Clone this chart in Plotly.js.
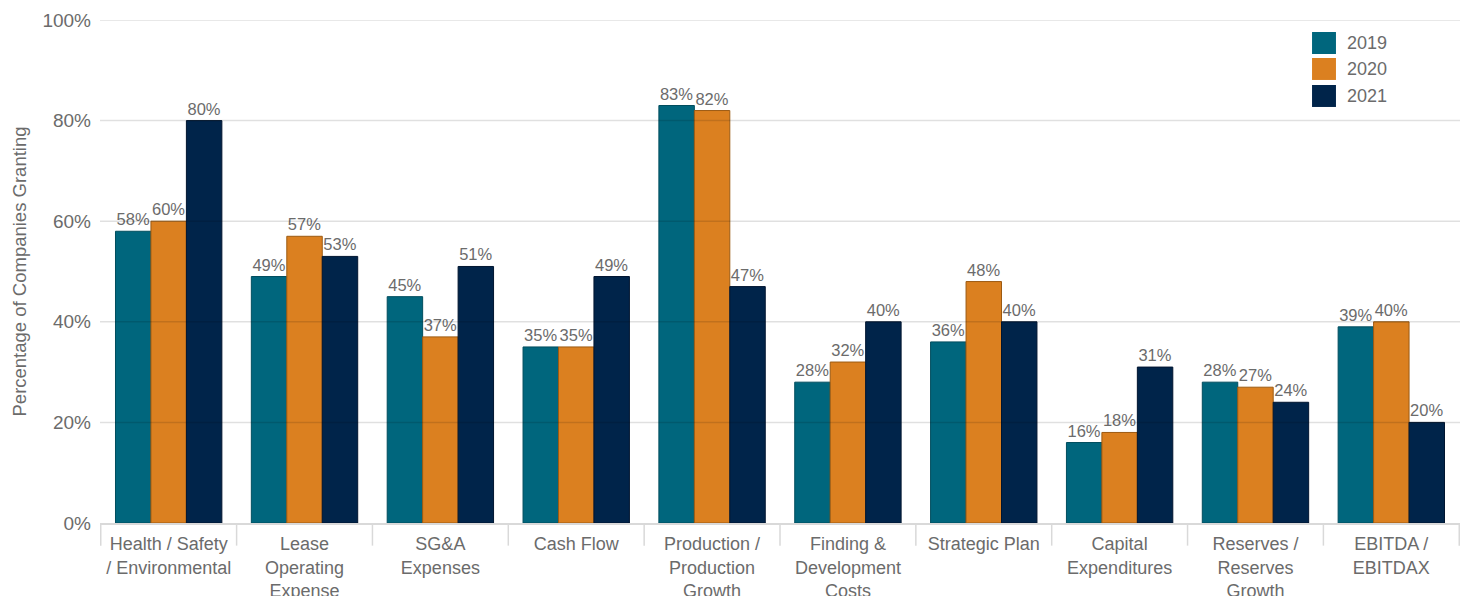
<!DOCTYPE html>
<html><head><meta charset="utf-8">
<script src="https://cdn.plot.ly/plotly-3.0.1.min.js"></script>
<style>html,body{margin:0;padding:0;background:#fff}#chart{width:1467px;height:596px}</style>
</head><body><div id="chart"></div>
<script>
const categories = ["Health / Safety<br>/ Environmental","Lease<br>Operating<br>Expense","SG&A<br>Expenses","Cash Flow","Production /<br>Production<br>Growth","Finding &<br>Development<br>Costs","Strategic Plan","Capital<br>Expenditures","Reserves /<br>Reserves<br>Growth","EBITDA /<br>EBITDAX"];
const series2019 = [58,49,45,35,83,28,36,16,28,39];
const series2020 = [60,57,37,35,82,32,48,18,27,40];
const series2021 = [80,53,51,49,47,40,40,31,24,20];
const seriesNames = ["2019","2020","2021"];
const colors = ["#00667d","#db8020","#00244a"];
const lineColors = ["#004d5e","#9c5a12","#001530"];
const allSeries = [series2019, series2020, series2021];
const yTicks = [0,20,40,60,80,100];

const FONT = "Liberation Sans, Arial, sans-serif";
const GRAY = "#6b6b6b";

const traces = allSeries.map((vals,i)=>({
  type:"bar", name:seriesNames[i], x:categories, y:vals,
  marker:{color:colors[i], line:{color:lineColors[i], width:1}},
  text:vals.map(v=>v+"%"), textposition:"outside", cliponaxis:false,
  textfont:{family:FONT, size:16.5, color:GRAY},
  hoverinfo:"skip", showlegend:false
}));

const shapes = [];
// category separators below the axis
for (let k=0;k<=categories.length;k++){
  shapes.push({type:"line", xref:"x", yref:"paper", x0:k-0.5, x1:k-0.5, y0:0, y1:-0.045,
    line:{color:"#d9d9d9", width:1.5}});
}
// gridlines drawn above bars (semi-transparent, as in the reference)
yTicks.filter(v=>v>0).forEach(v=>{
  shapes.push({type:"line", xref:"paper", yref:"y", x0:0, x1:1, y0:v, y1:v, layer:"above",
    line:{color:"rgba(0,0,0,0.12)", width:1.5}});
});
// custom legend swatches
const annotations = [];
const legX0 = 0.8912, legX1 = 0.9088, legTextX = 0.9154;
const legTop = [0.9761, 0.9245, 0.8708];
const legH = 0.0437;
seriesNames.forEach((n,i)=>{
  shapes.push({type:"rect", xref:"paper", yref:"paper", x0:legX0, x1:legX1,
    y0:legTop[i]-legH, y1:legTop[i], fillcolor:colors[i], line:{width:0}, layer:"above"});
  annotations.push({xref:"paper", yref:"paper", x:legTextX, y:legTop[i]-legH/2, xanchor:"left",
    yanchor:"middle", text:n, showarrow:false, font:{family:FONT, size:18, color:GRAY}});
});

const layout = {
  width:1467, height:596,
  margin:{l:100, r:7, t:20, b:73},
  paper_bgcolor:"#fff", plot_bgcolor:"#fff",
  barmode:"group", bargap:0.217, bargroupgap:0,
  font:{family:FONT, color:GRAY},
  showlegend:false,
  xaxis:{type:"category", tickfont:{size:18, color:GRAY}, ticks:"", showline:true,
    linecolor:"#d9d9d9", linewidth:1.5, showgrid:false, automargin:false, ticklabelstandoff:4},
  yaxis:{range:[0,100], tickvals:yTicks, ticktext:yTicks.map(v=>v+"%"), showgrid:false,
    zeroline:false, showline:false,
    tickfont:{size:19, color:GRAY}, ticks:"", automargin:false, ticklabelstandoff:8,
    title:{text:"Percentage of Companies Granting", font:{size:18.5, color:GRAY}, standoff:10}},
  shapes:shapes, annotations:annotations
};
Plotly.newPlot("chart", traces, layout, {displayModeBar:false, staticPlot:true});
</script></body></html>
